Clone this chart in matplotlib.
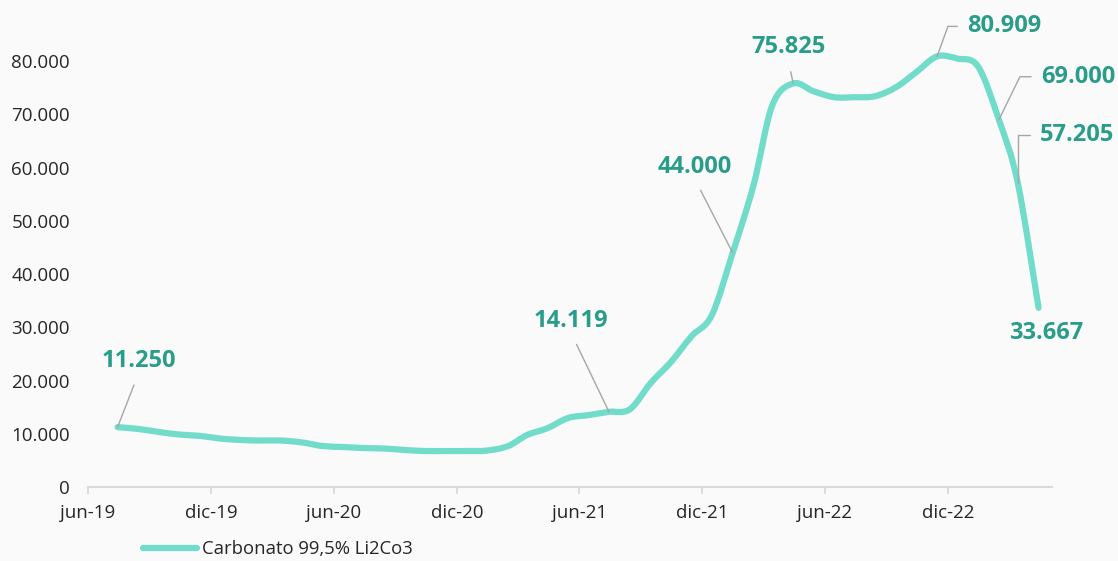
import matplotlib
matplotlib.use("Agg")
import matplotlib.pyplot as plt
import matplotlib.dates as mdates
from matplotlib.path import Path
from matplotlib.patches import PathPatch
from matplotlib.lines import Line2D
from matplotlib.ticker import FuncFormatter
import numpy as np
import datetime as dt

plt.rcParams['font.family'] = ['Open Sans', 'DejaVu Sans']

# ---- data ----
months = ['2019-07', '2019-08', '2019-09', '2019-10', '2019-11', '2019-12',
          '2020-01', '2020-02', '2020-03', '2020-04', '2020-05', '2020-06',
          '2020-07', '2020-08', '2020-09', '2020-10', '2020-11', '2020-12',
          '2021-01', '2021-02', '2021-03', '2021-04', '2021-05', '2021-06',
          '2021-07', '2021-08', '2021-09', '2021-10', '2021-11', '2021-12',
          '2022-01', '2022-02', '2022-03', '2022-04', '2022-05', '2022-06',
          '2022-07', '2022-08', '2022-09', '2022-10', '2022-11', '2022-12',
          '2023-01', '2023-02', '2023-03', '2023-04']
values = [11250, 10900, 10330, 9850, 9600, 9100,
          8830, 8730, 8730, 8360, 7700, 7510,
          7320, 7230, 6950, 6760, 6760, 6760,
          6850, 7700, 9760, 11080, 12960, 13520,
          14119, 14600, 19530, 23470, 28360, 32300,
          44000, 56700, 71740, 75825, 74370, 73240,
          73240, 73430, 75120, 77930, 80909, 80500,
          79000, 69000, 57205, 33667]
series_name = 'Carbonato 99,5% Li2Co3'
tick_labels = ['jun-19', 'dic-19', 'jun-20', 'dic-20', 'jun-21', 'dic-21', 'jun-22', 'dic-22']
tick_months = ['2019-06', '2019-12', '2020-06', '2020-12', '2021-06', '2021-12', '2022-06', '2022-12']
yticks = [0, 10000, 20000, 30000, 40000, 50000, 60000, 70000, 80000]
# labelled points: month, text
labelled = [('2019-07', '11.250'), ('2021-07', '14.119'), ('2022-01', '44.000'),
            ('2022-04', '75.825'), ('2022-11', '80.909'), ('2023-02', '69.000'),
            ('2023-03', '57.205'), ('2023-04', '33.667')]

LINE = '#72dccb'
LAB = '#2a9d8a'
BG = '#fafafa'
TXT = '#262626'
GRAY = '#d9d9d9'

def mid(m):
    y, mo = map(int, m.split('-'))
    return dt.datetime(y, mo, 15)

def first(m):
    y, mo = map(int, m.split('-'))
    return dt.datetime(y, mo, 1)

x = mdates.date2num([mid(m) for m in months])
y = np.array(values, dtype=float)

fig = plt.figure(figsize=(11.18, 5.61), dpi=100, facecolor=BG)
ax = fig.add_axes([88/1118, 1-487/561, (1052-88)/1118, (487-8)/561])
ax.set_facecolor(BG)

# smooth (Catmull-Rom style Bezier, like Excel's smoothed line) in data coords
P = np.column_stack([x, y])
n = len(P)
verts = [P[0]]
codes = [Path.MOVETO]
for i in range(n-1):
    p0 = P[i-1] if i > 0 else P[i]
    p1 = P[i]
    p2 = P[i+1]
    p3 = P[i+2] if i+2 < n else P[i+1]
    c1 = p1 + (p2 - p0) / 6.0
    c2 = p2 - (p3 - p1) / 6.0
    verts += [c1, c2, p2]
    codes += [Path.CURVE4]*3
patch = PathPatch(Path(verts, codes), facecolor='none', edgecolor=LINE, lw=4.5,
                  capstyle='round', joinstyle='round', zorder=3)
ax.add_patch(patch)

ax.set_xlim(mdates.date2num(dt.datetime(2019, 6, 1)), mdates.date2num(dt.datetime(2023, 5, 5)))
ax.set_ylim(0, 90000)

ax.set_xticks(mdates.date2num([first(m) for m in tick_months]))
ax.set_xticklabels(tick_labels)
ax.set_yticks(yticks)
ax.yaxis.set_major_formatter(FuncFormatter(lambda v, p: f"{int(v):,}".replace(',', '.')))

for s in ['top', 'right', 'left']:
    ax.spines[s].set_visible(False)
ax.spines['bottom'].set_color(GRAY)
ax.spines['bottom'].set_linewidth(1.5)
ax.tick_params(axis='x', colors=GRAY, length=5, width=1.3, labelcolor=TXT, labelsize=13.5, pad=7)
ax.tick_params(axis='y', length=0, labelcolor=TXT, labelsize=13.5, pad=13)

# data labels
lab_cfg = {
    '2019-07': dict(off=(21, 66), ha='center', rel=(0.5, 0), cs='arc3'),
    '2021-07': dict(off=(-38, 91), ha='center', rel=(0.5, 0), cs='arc3'),
    '2022-01': dict(off=(-38, 86), ha='center', rel=(0.5, 0), cs='arc3'),
    '2022-04': dict(off=(-5, 36), ha='center', rel=(0.5, 0), cs='arc3'),
    '2022-11': dict(off=(30, 30), ha='left', rel=(0, 0.5), cs='angle,angleA=0,angleB=70,rad=0'),
    '2023-02': dict(off=(42, 43), ha='left', rel=(0, 0.5), cs='angle,angleA=0,angleB=64,rad=0'),
    '2023-03': dict(off=(22, 48), ha='left', rel=(0, 0.5), cs='angle,angleA=0,angleB=90,rad=0'),
    '2023-04': dict(off=(8, -25), ha='center', rel=None, cs=None),
}
idx = {m: i for i, m in enumerate(months)}
for m, txt in labelled:
    c = lab_cfg[m]
    i = idx[m]
    kw = {}
    if c['rel'] is not None:
        kw['arrowprops'] = dict(arrowstyle='-', color='#a6a6a6', lw=1.0,
                                connectionstyle=c['cs'], relpos=c['rel'],
                                shrinkA=5 if c['ha'] == 'left' else 7, shrinkB=0)
    ax.annotate(txt, xy=(x[i], y[i]), xytext=c['off'], textcoords='offset pixels',
                ha=c['ha'], va='center', fontsize=17, fontweight='bold', color=LAB,
                annotation_clip=False, zorder=4, **kw)

handle = Line2D([0], [0], color=LINE, lw=4.5, solid_capstyle='round')
fig.legend([handle], [series_name], loc='center left',
           bbox_to_anchor=(143/1118, 1-549/561), frameon=False, fontsize=13.3,
           handlelength=2.95, handletextpad=0.25, borderpad=0, borderaxespad=0,
           labelcolor=TXT)

fig.savefig('out.png', dpi=100, facecolor=BG)
